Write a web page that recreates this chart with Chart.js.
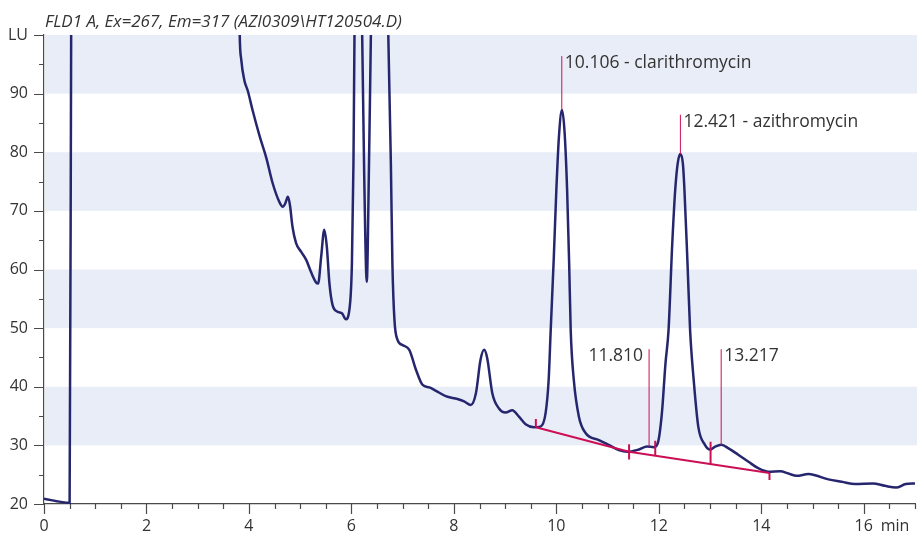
<!DOCTYPE html>
<html><head><meta charset="utf-8">
<script src="https://cdn.jsdelivr.net/npm/chart.js@4.4.1/dist/chart.umd.min.js"></script>
<style>html,body{margin:0;padding:0;background:#fff;}#wrap{width:917px;height:534px;position:relative;}</style>
</head><body><div id="wrap"><canvas id="c" width="917" height="534"></canvas></div>
<script>
const chartTitle = 'FLD1 A, Ex=267, Em=317 (AZI0309\\HT120504.D)';
const xUnit = 'min';
const yUnit = 'LU';

const traceTime = [0, 0.5, 0.53, 0.56, 3.70, 3.82, 3.85, 3.91, 3.98, 4.07, 4.21, 4.34, 4.46, 4.60, 4.66, 4.71, 4.76, 4.80, 4.85, 4.92, 5.02, 5.12, 5.21, 5.31, 5.35, 5.41, 5.47, 5.52, 5.57, 5.63, 5.73, 5.82, 5.89, 5.96, 6.01, 6.04, 6.06, 6.13, 6.21, 6.25, 6.30, 6.34, 6.38, 6.55, 6.72, 6.77, 6.80, 6.84, 6.90, 7.00, 7.13, 7.26, 7.39, 7.52, 7.65, 7.84, 8.07, 8.20, 8.33, 8.43, 8.52, 8.59, 8.65, 8.75, 8.88, 9.01, 9.14, 9.27, 9.40, 9.56, 9.69, 9.79, 9.85, 9.89, 9.95, 10.00, 10.05, 10.11, 10.16, 10.21, 10.25, 10.28, 10.34, 10.44, 10.57, 10.83, 11.02, 11.22, 11.38, 11.61, 11.77, 11.90, 11.98, 12.06, 12.13, 12.19, 12.26, 12.32, 12.37, 12.42, 12.47, 12.50, 12.56, 12.61, 12.68, 12.77, 12.90, 13.00, 13.10, 13.22, 13.36, 13.55, 13.75, 13.94, 14.14, 14.37, 14.53, 14.69, 14.92, 15.05, 15.31, 15.57, 15.83, 16.18, 16.41, 16.63, 16.82, 17.00];
const traceLU = [20.9, 20.2, 100, 180, 180, 100, 95.8, 92.3, 90.4, 87.2, 82.7, 79.0, 74.8, 71.4, 70.7, 71.3, 72.4, 71.0, 67.3, 64.5, 63.0, 61.6, 59.6, 57.8, 57.6, 62.2, 66.8, 63.9, 57.7, 54.0, 52.8, 52.5, 51.5, 53.1, 61.1, 78.2, 100, 160, 100, 76, 57.9, 76, 100, 200, 100, 78.1, 61.0, 51.4, 48.0, 47.1, 46.3, 42.9, 40.3, 39.9, 39.3, 38.4, 37.9, 37.5, 36.9, 38.9, 44.6, 46.3, 44.9, 38.9, 36.3, 35.6, 36.0, 34.9, 33.6, 33.1, 33.2, 35.5, 41.2, 49.7, 62.0, 73.6, 82.6, 87.2, 83.5, 73.6, 61.0, 49.7, 41.2, 34.9, 32.1, 30.9, 30.1, 29.2, 28.9, 29.3, 29.8, 29.7, 30.4, 35.5, 44.0, 49.7, 64.0, 73.6, 78.2, 79.7, 78.0, 73.6, 61.0, 49.7, 41.2, 33.2, 30.1, 29.3, 29.8, 30.1, 29.5, 28.4, 27.2, 26.1, 25.5, 25.6, 25.2, 24.8, 25.1, 24.9, 24.2, 23.8, 23.4, 23.5, 23.1, 22.8, 23.4, 23.5];

const baselineTime = [9.60, 11.42, 14.16];
const baselineLU = [33.1, 28.9, 25.3];
const markTime = [9.60, 11.42, 11.93, 13.01, 14.16];
const markLow = [33.1, 27.6, 28.2, 26.7, 24.1];
const markHigh = [34.5, 30.2, 30.8, 30.6, 25.3];

const peakTime = [10.106, 12.421, 11.810, 13.217];
const peakApex = [87.2, 79.7, 29.8, 30.1];
const peakLineTop = [96.4, 86.4, 46.4, 46.4];
const peakLabel = ['10.106 - clarithromycin', '12.421 - azithromycin', '11.810', '13.217'];
const peakLabelSide = ['right', 'right', 'left', 'right'];

const bandRanges = [[30, 40], [50, 60], [70, 80], [90, 100]];
const xMin = 0, xMax = 17, xMinorStep = 0.5, xLabelStep = 2;
const yMin = 20, yMax = 100, yMinorStep = 5, yLabelStep = 10;

const NAVY = '#26266f';
const CRIMSON = '#cc0f55';
const TXT = '#333333';
const AXIS = '#4a4a4a';
const FONT = '"Open Sans"';

const traceData = traceTime.map((t, i) => ({x: t, y: traceLU[i]}));
const baselineData = baselineTime.map((t, i) => ({x: t, y: baselineLU[i]}));
const markData = [];
markTime.forEach((t, i) => { markData.push({x: t, y: markLow[i]}, {x: t, y: markHigh[i]}, {x: t, y: null}); });
const peakData = [];
peakTime.forEach((t, i) => { peakData.push({x: t, y: peakApex[i]}, {x: t, y: peakLineTop[i]}, {x: t, y: null}); });

const decor = {
  id: 'decor',
  beforeDatasetsDraw(chart) {
    const {ctx, chartArea, scales: {y}} = chart;
    ctx.save();
    ctx.fillStyle = '#e9edf7';
    bandRanges.forEach(([a, b]) => {
      const y1 = y.getPixelForValue(b), y2 = y.getPixelForValue(a);
      ctx.fillRect(chartArea.left + 1, y1, chart.width - chartArea.left - 1, y2 - y1);
    });
    ctx.restore();
  },
  afterDraw(chart) {
    const {ctx, chartArea, scales: {x, y}} = chart;
    ctx.save();
    ctx.strokeStyle = AXIS;
    ctx.lineWidth = 1.2;
    ctx.beginPath();
    for (let v = yMin; v <= yMax + 1e-9; v += yMinorStep) {
      const py = Math.round(y.getPixelForValue(v)) + 0.5;
      const len = (Math.abs(v % yLabelStep) < 1e-9) ? 10 : 5;
      ctx.moveTo(chartArea.left - len, py);
      ctx.lineTo(chartArea.left, py);
    }
    for (let v = xMin; v <= xMax + 1e-9; v += xMinorStep) {
      const px = Math.round(x.getPixelForValue(v)) + 0.5;
      const len = (Math.abs(v % xLabelStep) < 1e-9) ? 10 : 5;
      ctx.moveTo(px, chartArea.bottom);
      ctx.lineTo(px, chartArea.bottom + len);
    }
    ctx.stroke();

    ctx.fillStyle = TXT;
    ctx.font = 'italic 17px ' + FONT;
    ctx.textAlign = 'left';
    ctx.textBaseline = 'alphabetic';
    ctx.fillText(chartTitle, 45, 27);

    ctx.font = '16px ' + FONT;
    ctx.textBaseline = 'middle';
    ctx.fillText(xUnit, x.getPixelForValue(16) + 17, 526);

    ctx.font = '17.5px ' + FONT;
    peakTime.forEach((t, i) => {
      const px = x.getPixelForValue(t);
      const py = y.getPixelForValue(peakLineTop[i]) + 7;
      if (peakLabelSide[i] === 'left') { ctx.textAlign = 'right'; ctx.fillText(peakLabel[i], px - 6, py); }
      else { ctx.textAlign = 'left'; ctx.fillText(peakLabel[i], px + 3, py); }
    });
    ctx.restore();
  }
};

new Chart(document.getElementById('c'), {
  type: 'line',
  data: {
    datasets: [
      {data: baselineData, borderColor: CRIMSON, borderWidth: 2, pointRadius: 0, tension: 0, order: 1},
      {data: markData, borderColor: CRIMSON, borderWidth: 2, pointRadius: 0, tension: 0, spanGaps: false, order: 1},
      {data: peakData, borderColor: CRIMSON, borderWidth: 1, pointRadius: 0, tension: 0, spanGaps: false, order: 1},
      {data: traceData, borderColor: NAVY, borderWidth: 2.5, pointRadius: 0, cubicInterpolationMode: 'monotone', order: 2}
    ]
  },
  options: {
    responsive: false, animation: false, devicePixelRatio: 1,
    layout: {padding: {top: 35, right: 2, left: 0, bottom: 0}},
    plugins: {legend: {display: false}, tooltip: {enabled: false}, title: {display: false}},
    scales: {
      x: {
        type: 'linear', min: xMin, max: xMax,
        grid: {display: false, drawTicks: false},
        border: {display: true, color: AXIS, width: 1.2},
        ticks: {stepSize: xMinorStep, autoSkip: false, maxRotation: 0, padding: 13, color: TXT,
          font: {family: FONT, size: 16},
          callback: v => (Math.abs(v % xLabelStep) < 1e-9 && v < xMax) ? String(v) : ''},
        afterFit: s => { s.height = 30; s.paddingLeft = 0; s.paddingRight = 0; }
      },
      y: {
        type: 'linear', min: yMin, max: yMax,
        grid: {display: false, drawTicks: false},
        border: {display: true, color: AXIS, width: 1.2},
        ticks: {stepSize: yMinorStep, autoSkip: false, padding: 16, color: TXT,
          font: {family: FONT, size: 16},
          callback: v => v === yMax ? yUnit : (Math.abs(v % yLabelStep) < 1e-9 ? String(v) : '')},
        afterFit: s => { s.width = 44; s.paddingTop = 0; s.paddingBottom = 0; }
      }
    }
  },
  plugins: [decor]
});
</script></body></html>
